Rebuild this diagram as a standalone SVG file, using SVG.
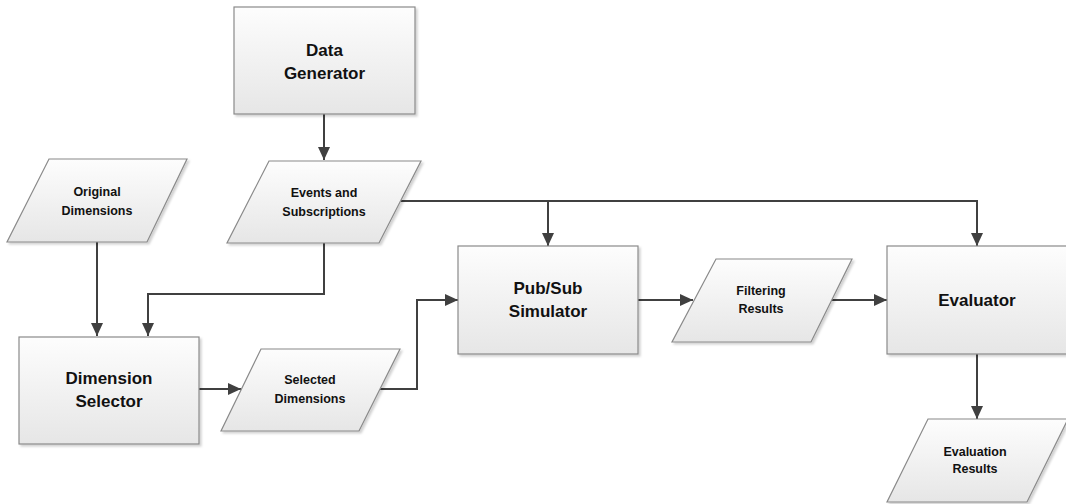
<svg xmlns="http://www.w3.org/2000/svg" width="1066" height="504" viewBox="0 0 1066 504">
<style>
.box{fill:url(#g);stroke:#8a8a8a;stroke-width:1.2;filter:url(#sh)}
.t{font-family:"Liberation Sans",Arial,sans-serif;font-weight:bold;fill:#111;text-anchor:middle}
.big{font-size:17px}
.sm{font-size:12.5px}
.c{fill:none;stroke:#404040;stroke-width:2;marker-end:url(#ah)}
</style>
<defs>
<linearGradient id="g" x1="0" y1="0" x2="0" y2="1">
<stop offset="0" stop-color="#fdfdfd"/>
<stop offset="1" stop-color="#e6e6e6"/>
</linearGradient>
<filter id="sh" x="-10%" y="-10%" width="130%" height="130%">
<feDropShadow dx="2" dy="2" stdDeviation="1.2" flood-color="#000" flood-opacity="0.18"/>
</filter>
<marker id="ah" markerUnits="userSpaceOnUse" markerWidth="15" markerHeight="15" viewBox="0 0 15 15" refX="14" refY="7.5" orient="auto">
<path d="M1,1.5 L14,7.5 L1,13.5 Z" fill="#404040"/>
</marker>
</defs>
<g id="connectors">
<path class="c" d="M324,114 V160"/>
<path class="c" d="M324,243 V294 H148 V336"/>
<path class="c" d="M97,242 V336"/>
<path class="c" d="M401,201 H548 V246"/>
<path class="c" d="M548,201 H977 V246"/>
<path class="c" d="M199,389 H241"/>
<path class="c" d="M380,389 H417 V300 H458"/>
<path class="c" d="M638,300 H693"/>
<path class="c" d="M831,300 H887"/>
<path class="c" d="M977,354 V419"/>
</g>
<g id="data-generator">
<rect class="box" x="234" y="7" width="181" height="107"/>
<text class="t big" x="324.5" y="56">Data</text>
<text class="t big" x="324.5" y="79">Generator</text>
</g>
<g id="events-subscriptions">
<polygon class="box" points="269,161 421,161 379,243 227,243"/>
<text class="t sm" x="324" y="197">Events and</text>
<text class="t sm" x="324" y="216">Subscriptions</text>
</g>
<g id="original-dimensions">
<polygon class="box" points="49,159 187,159 147,242 7,242"/>
<text class="t sm" x="97" y="196">Original</text>
<text class="t sm" x="97" y="215">Dimensions</text>
</g>
<g id="dimension-selector">
<rect class="box" x="19" y="337" width="180" height="107"/>
<text class="t big" x="109" y="384">Dimension</text>
<text class="t big" x="109" y="407">Selector</text>
</g>
<g id="selected-dimensions">
<polygon class="box" points="261,349 400,349 359,431 221,431"/>
<text class="t sm" x="310" y="384">Selected</text>
<text class="t sm" x="310" y="403">Dimensions</text>
</g>
<g id="pubsub-simulator">
<rect class="box" x="458" y="246" width="180" height="108"/>
<text class="t big" x="548" y="294">Pub/Sub</text>
<text class="t big" x="548" y="317">Simulator</text>
</g>
<g id="filtering-results">
<polygon class="box" points="716,259 852,259 811,342 672,342"/>
<text class="t sm" x="761" y="295">Filtering</text>
<text class="t sm" x="761" y="313">Results</text>
</g>
<g id="evaluator">
<rect class="box" x="887" y="246" width="182" height="108"/>
<text class="t big" x="977" y="306">Evaluator</text>
</g>
<g id="evaluation-results">
<polygon class="box" points="928,419 1068,419 1027,502 887,502"/>
<text class="t sm" x="975" y="456">Evaluation</text>
<text class="t sm" x="975" y="473">Results</text>
</g>
</svg>
